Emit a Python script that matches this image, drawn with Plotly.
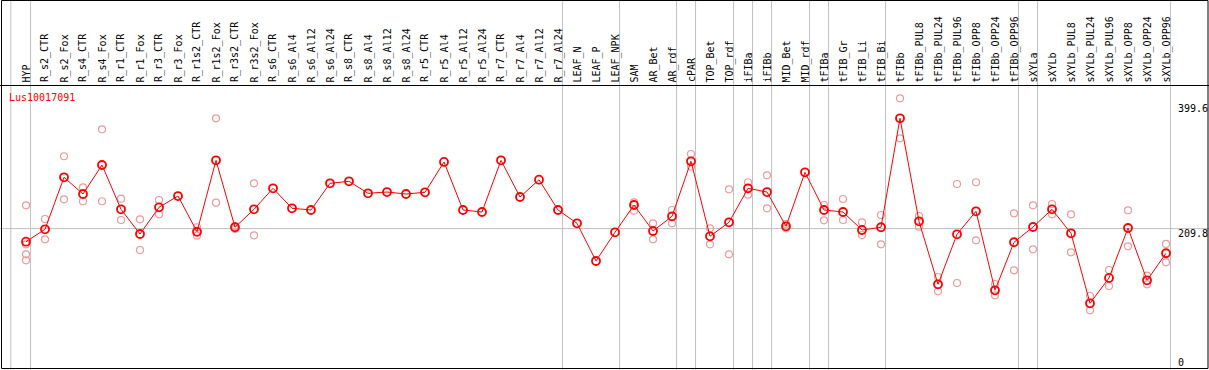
import plotly.graph_objects as go

categories = ["HYP", "R_s2_CTR", "R_s2_Fox", "R_s4_CTR", "R_s4_Fox", "R_r1_CTR", "R_r1_Fox",
              "R_r3_CTR", "R_r3_Fox", "R_r1s2_CTR", "R_r1s2_Fox", "R_r3s2_CTR", "R_r3s2_Fox",
              "R_s6_CTR", "R_s6_Al4", "R_s6_Al12", "R_s6_Al24", "R_s8_CTR", "R_s8_Al4", "R_s8_Al12",
              "R_s8_Al24", "R_r5_CTR", "R_r5_Al4", "R_r5_Al12", "R_r5_Al24", "R_r7_CTR", "R_r7_Al4",
              "R_r7_Al12", "R_r7_Al24", "LEAF_N", "LEAF_P", "LEAF_NPK", "SAM", "AR_Bet", "AR_rdf",
              "cPAR", "TOP_Bet", "TOP_rdf", "iFIBa", "iFIBb", "MID_Bet", "MID_rdf", "tFIBa",
              "tFIB_Gr", "tFIB_Li", "tFIB_Bi", "tFIBb", "tFIBb_PUL8", "tFIBb_PUL24", "tFIBb_PUL96",
              "tFIBb_OPP8", "tFIBb_OPP24", "tFIBb_OPP96", "sXYLa", "sXYLb", "sXYLb_PUL8",
              "sXYLb_PUL24", "sXYLb_PUL96", "sXYLb_OPP8", "sXYLb_OPP24", "sXYLb_OPP96"]

mean_values = [189.8, 208.7, 288.1, 262.6, 306.9, 239.2, 201.5, 242.3, 259.5, 205.0, 314.0, 211.8, 239.2,
               271.3, 240.8, 238.2, 278.9, 282.0, 263.7, 265.6, 262.6, 265.2, 311.5, 238.2, 235.1,
               314.0, 258.0, 284.4, 238.2, 217.9, 160.3, 204.1, 245.8, 206.1, 228.5, 312.5, 198.0,
               219.4, 271.3, 265.6, 213.3, 295.7, 238.2, 235.1, 207.6, 211.8, 378.2, 220.9, 124.7,
               201.1, 236.2, 115.6, 188.9, 212.2, 239.2, 202.6, 95.7, 134.4, 210.7, 130.8, 172.1]

rep1 = [245.3, 224.4, 320.2, 272.8, 361.4, 255.4, 224.0, 253.4, None, 211.8, 378.2, 213.7, 278.9,
        None, None, None, None, None, None, None, None, None, None, None, None, None, None, None, None,
        None, None, None, 249.9, 217.9, 238.2, 323.7, 210.2, 269.8, 280.5, 291.1, 216.8, None, 245.8,
        255.0, 219.4, 230.5, 408.7, 229.0, 135.9, 277.9, 280.5, 125.2, 233.1, 245.3, 247.3, 231.6,
        106.9, 146.6, 237.7, 137.9, 186.3]
rep2 = [170.5, 193.4, 254.5, 251.5, 251.5, 222.9, 177.1, 231.6, None, 198.9, 249.3, 209.2, 199.5,
        None, None, None, None, None, None, None, None, None, None, None, None, None, None, None, None,
        None, None, None, 237.1, 193.4, 217.9, 304.3, 185.8, 170.5, 261.5, 240.8, 210.2, None, 222.4,
        222.9, 200.0, 185.8, 347.6, 212.7, 114.0, 126.7, 191.9, 107.9, 146.1, 178.2, 231.6, 173.6,
        85.0, 122.1, 182.7, 124.7, 158.3]
rep3 = [161.4] + [None] * 60
rep4 = [185.8] + [None] * 60

group_ends = ["HYP", "R_r7_Al24", "LEAF_NPK", "AR_rdf", "cPAR", "TOP_rdf", "iFIBa", "iFIBb",
              "MID_rdf", "tFIBa", "tFIB_Bi", "tFIBb_OPP96", "sXYLa", "sXYLb_OPP96"]
gene_name = "Lus10017091"
axis_ticks = [399.6, 209.8, 0]

W, H = 1209, 370
X0_PX, STEP = 26, 19
XMIN = -X0_PX / STEP
XMAX = XMIN + W / STEP
Y0_PX, YSCALE = 366, 0.655
YMAX = Y0_PX / YSCALE
YMIN = YMAX - H / YSCALE

xs = list(range(len(categories)))
FONT = "DejaVu Sans Mono"
GRID = "#c0c0c0"

fig = go.Figure()

for reps in (rep1, rep2, rep3, rep4):
    fig.add_trace(go.Scatter(
        x=xs, y=reps, mode="markers",
        marker=dict(symbol="circle-open", size=7, color="#f09a9a", line=dict(width=1.2, color="#f09a9a")),
        hoverinfo="skip", showlegend=False, cliponaxis=False))

fig.add_trace(go.Scatter(
    x=xs, y=mean_values, mode="lines+markers",
    line=dict(color="#ff0000", width=1),
    marker=dict(symbol="circle-open", size=8, color="#ff0000", line=dict(width=1.8, color="#ff0000")),
    showlegend=False, cliponaxis=False))

shapes = []
shapes.append(dict(type="line", xref="x", yref="paper", x0=-0.8, x1=-0.8, y0=0, y1=1,
                   line=dict(color=GRID, width=1), layer="below"))
for name in group_ends:
    gx = categories.index(name) + 0.24
    shapes.append(dict(type="line", xref="x", yref="paper", x0=gx, x1=gx, y0=0, y1=1,
                       line=dict(color=GRID, width=1), layer="below"))
shapes.append(dict(type="line", xref="paper", yref="y", x0=0, x1=1, y0=axis_ticks[1], y1=axis_ticks[1],
                   line=dict(color=GRID, width=1), layer="below"))
hy = 1 - 85.5 / H
shapes.append(dict(type="line", xref="paper", yref="paper", x0=0, x1=1, y0=hy, y1=hy,
                   line=dict(color="black", width=1)))
shapes.append(dict(type="rect", xref="paper", yref="paper", x0=1.5 / W, x1=1 - 1.0 / W,
                   y0=1.5 / H, y1=1 - 0.5 / H, line=dict(color="black", width=1)))

annotations = []
for i, c in enumerate(categories):
    annotations.append(dict(x=i, xref="x", y=1 - 83.5 / H, yref="paper", text=c, textangle=-90,
                            showarrow=False, xanchor="center", yanchor="bottom",
                            font=dict(family=FONT, size=10, color="black"), borderpad=0))
annotations.append(dict(x=8 / W, xref="paper", y=1 - 97.5 / H, yref="paper", text=gene_name,
                        showarrow=False, xanchor="left", yanchor="middle",
                        font=dict(family=FONT, size=10, color="#ff0000"), borderpad=0))
for v in axis_ticks:
    if v == 0:
        annotations.append(dict(x=1177 / W, xref="paper", y=1 - 356.0 / H, yref="paper", text="0",
                                showarrow=False, xanchor="left", yanchor="top",
                                font=dict(family=FONT, size=10, color="black"), borderpad=0))
    else:
        annotations.append(dict(x=1177 / W, xref="paper", y=v, yref="y", text=str(v), yshift=2,
                                showarrow=False, xanchor="left", yanchor="top",
                                font=dict(family=FONT, size=10, color="black"), borderpad=0))

fig.update_layout(
    width=W, height=H, margin=dict(l=0, r=0, t=0, b=0),
    paper_bgcolor="white", plot_bgcolor="white",
    xaxis=dict(range=[XMIN, XMAX], visible=False, showgrid=False, zeroline=False),
    yaxis=dict(range=[YMIN, YMAX], visible=False, showgrid=False, zeroline=False),
    shapes=shapes, annotations=annotations,
)

fig.write_html("out.html", config={"displayModeBar": False},
               post_script="document.body.style.margin='0';document.body.style.overflow='hidden';")
